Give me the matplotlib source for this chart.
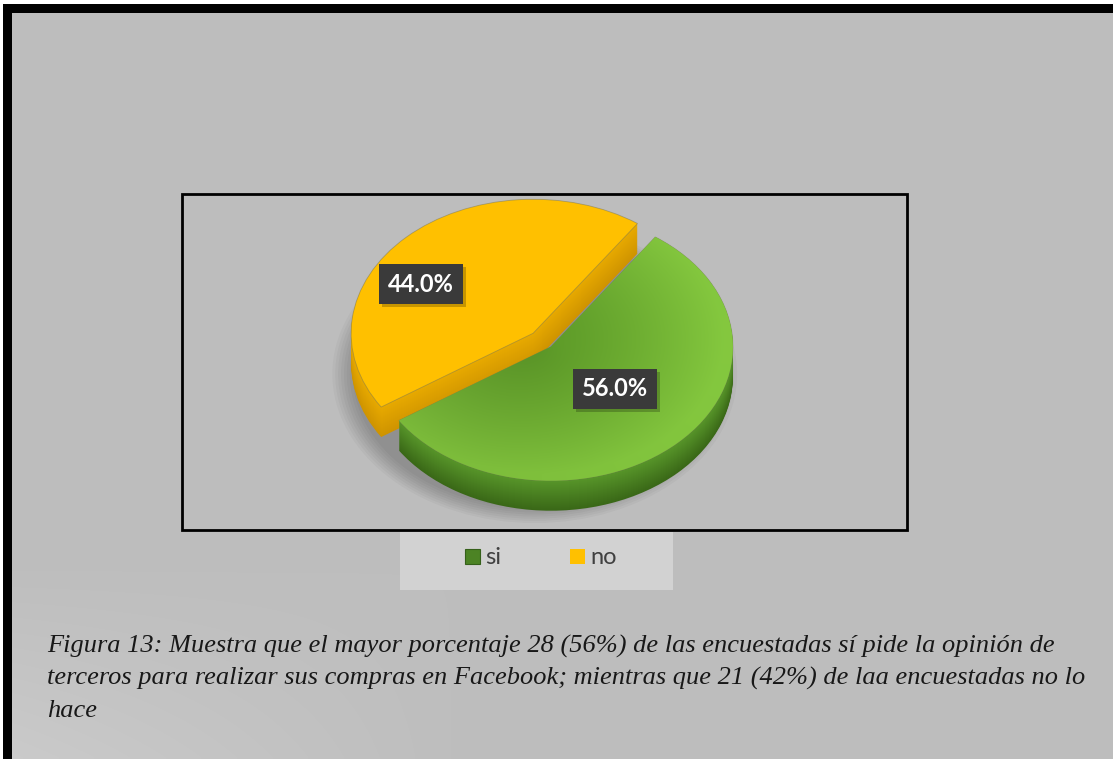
import numpy as np
import matplotlib
matplotlib.use('Agg')
import matplotlib.pyplot as plt
from matplotlib.patches import Rectangle, Patch, Ellipse
import matplotlib.colors as mcolors

# ---------------- data ----------------
categories = ['si', 'no']
values = [56.0, 44.0]
value_labels = ['56.0%', '44.0%']
caption_lines = [
    'Figura 13: Muestra que el mayor porcentaje 28 (56%) de las encuestadas sí pide la opinión de',
    'terceros para realizar sus compras en Facebook; mientras que 21 (42%) de laa encuestadas no lo',
    'hace',
]

# ---------------- styling ----------------
W, H = 1115, 759
top_colors = ['#72b030', '#ffc000']
side_dark = ['#3a6817', '#cf9400']
side_light = ['#58962a', '#e8aa00']

fig = plt.figure(figsize=(W / 100, H / 100), dpi=100)
fig.patch.set_facecolor('white')

# background axes in pixel coordinates
bg = fig.add_axes([0, 0, 1, 1])
yy, xx = np.mgrid[0:H:3, 0:W:3].astype(float)
t = np.clip((yy / H - 0.75) / 0.25, 0, 1) * np.clip(1 - xx / 450, 0, 1)
g = 0.745 + 0.05 * t
img = np.dstack([g, g, g])
bg.imshow(img, extent=(3, 1113, H, 4), aspect='auto', zorder=0, interpolation='bilinear')
bg.set_xlim(0, W)
bg.set_ylim(H, 0)
bg.axis('off')

# black frame (left and top)
bg.add_patch(Rectangle((3, 4), 9, H - 4, facecolor='black', edgecolor='none', zorder=1))
bg.add_patch(Rectangle((3, 4), 1110, 9, facecolor='black', edgecolor='none', zorder=1))
# inner plot frame
bg.add_patch(Rectangle((182, 194), 725, 336, facecolor='none', edgecolor='black', lw=2, zorder=2))
# legend box
bg.add_patch(Rectangle((400, 532), 273, 58, facecolor='#d2d2d2', edgecolor='none', zorder=2))
bg.set_zorder(0)

# ---------------- pie axes ----------------
ax = fig.add_axes([0, 0, 1, 1])
ax.patch.set_alpha(0)
ax.set_zorder(1)
CX, CY = 542, 340
RX, RY = 182, 134
D = 30 / RY
N = 30
start = 55
explode = [0.07, 0.07]

# soft shadow
for i in range(8):
    s = 1.0 + i * 0.016
    ax.add_patch(Ellipse((-0.04, -D - 0.03), 2 * s, 2 * s, facecolor='black',
                         alpha=0.03, edgecolor='none', zorder=0))

wedge_top = {}
for idx in [1, 0]:  # back slice first (no), then front slice (si)
    for k in range(N + 1):
        frac = k / N
        if k < N:
            c = mcolors.to_rgb(side_dark[idx])
            c2 = mcolors.to_rgb(side_light[idx])
            col = tuple(c[j] + (c2[j] - c[j]) * frac for j in range(3))
        else:
            col = top_colors[idx]
        cols = ['none', 'none']
        cols[idx] = col
        wedges, _ = ax.pie(values, colors=cols, startangle=start, counterclock=False,
                           explode=explode, center=(0, -D * (1 - frac)), radius=1,
                           wedgeprops=dict(linewidth=0, edgecolor='none'), frame=True)
        for wi, w in enumerate(wedges):
            if wi != idx:
                w.set_visible(False)
            else:
                w.set_zorder(1 + (idx == 0) * 2)
                if k == N:
                    w.set_edgecolor((0.45, 0.45, 0.35, 0.5))
                    w.set_linewidth(0.6)
        if k == N:
            wedge_top[idx] = wedges[idx]

# gradient on the green top face
gy, gx = np.mgrid[-1.3:1.3:300j, -1.3:1.3:300j]
r = np.sqrt(gx ** 2 + gy ** 2)
ang = np.arctan2(gy, gx)
tt = np.clip(r, 0, 1) ** 1.3
light = np.array(mcolors.to_rgb('#7fc03c'))
dark = np.array(mcolors.to_rgb('#5a9527'))
shade = tt[..., None] * light + (1 - tt[..., None]) * dark
shade = shade * (1 + 0.04 * np.cos(ang)[..., None])
shade = np.clip(shade, 0, 1)
im = ax.imshow(shade, extent=(-1.3, 1.3, -1.3, 1.3), origin='lower', aspect='auto',
               zorder=3.5, interpolation='bilinear')
im.set_clip_path(wedge_top[0])

ax.set_xlim(-CX / RX, (W - CX) / RX)
ax.set_ylim(-(H - CY) / RY, CY / RY)
ax.set_aspect('auto')
ax.axis('off')

# ---------------- value labels ----------------
ov = fig.add_axes([0, 0, 1, 1])
ov.set_xlim(0, W)
ov.set_ylim(H, 0)
ov.axis('off')
ov.set_zorder(2)
label_pos = [(615, 389), (421, 284)]
label_texts = []
for (px, py), lab in zip(label_pos, value_labels):
    tx = ov.text(px, py, lab, ha='center', va='center', color='white', fontsize=17,
                 fontweight='bold', family='Lato', zorder=5,
                 bbox=dict(boxstyle='square,pad=0.38', facecolor='#3a3a3a', edgecolor='none'))
    label_texts.append(tx)
fig.canvas.draw()
for tx in label_texts:
    ext = tx.get_bbox_patch().get_window_extent()
    x0, x1 = ext.x0, ext.x1
    y0, y1 = H - ext.y1, H - ext.y0
    ov.add_patch(Rectangle((x0 + 3, y0 + 3), x1 - x0, y1 - y0, facecolor='black',
                           alpha=0.22, edgecolor='none', zorder=4))

# ---------------- legend ----------------
handles = [Patch(facecolor='#4c8324', edgecolor='#35601a', lw=0.8),
           Patch(facecolor='#ffc000', edgecolor='none')]
fig.legend(handles, categories, loc='center', bbox_to_anchor=(541 / W, 1 - 558 / H),
           ncol=2, frameon=False, prop=dict(family='Lato', size=17),
           labelcolor='#404040', handlelength=0.62, handleheight=0.62,
           handletextpad=0.25, columnspacing=2.9)

# ---------------- caption ----------------
baselines = [653, 685, 717]
for line, b in zip(caption_lines, baselines):
    fig.text(47 / W, 1 - b / H, line, ha='left', va='baseline', fontsize=19,
             family='Liberation Serif', style='italic', color='#181818')

fig.savefig('out.png', dpi=100, facecolor='white')
